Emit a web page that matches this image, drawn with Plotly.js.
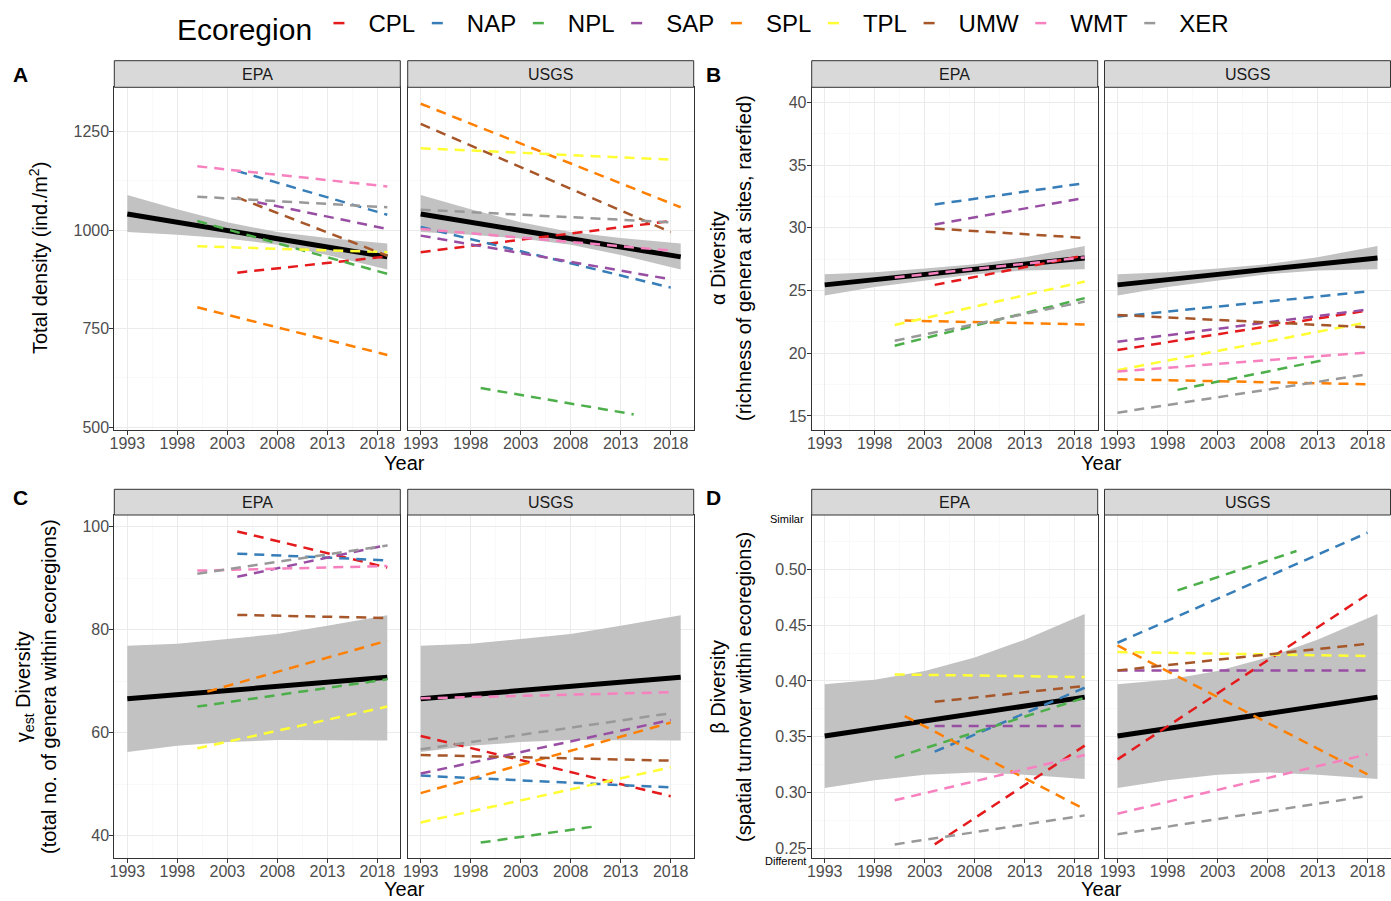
<!DOCTYPE html>
<html>
<head>
<meta charset="utf-8">
<script src="https://cdn.plot.ly/plotly-3.0.1.min.js"></script>
<style>html,body{margin:0;padding:0;background:#fff;}#chart{width:1391px;height:901px;}</style>
</head>
<body>
<div id="chart"></div>
<script>
// ---------------- DATA ----------------
const ecoregions = ['CPL','NAP','NPL','SAP','SPL','TPL','UMW','WMT','XER'];
const facets = ['EPA','USGS'];

// fitted trend (black) and its confidence ribbon
const trendYears = [1993, 2019];
const ribbonYears = [1993, 1998, 2003, 2008, 2013, 2019];

// A: Total density (ind./m2)  -- [start, end] per ecoregion
const densityEPAYears  = [[2004,2019],[2004,2019],[2000,2019],[2006,2019],[2000,2019],[2000,2019],[2004,2019],[2000,2019],[2000,2019]];
const densityEPA       = [[892,933],[1150,1039],[1023,889],[1071,1003],[804,683],[959,944],[1083,935],[1162,1111],[1085,1058]];
const densityUSGSYears = [[1993,2018],[1993,2018],[1999,2014.3],[1993,2018],[1993,2019],[1993,2018],[1993,2018],[1993,2018],[1993,2018]];
const densityUSGS      = [[944,1023],[1008,854],[599,532],[986,875],[1321,1058],[1208,1179],[1270,995],[1003,948],[1052,1020]];
const densityTrend = [1041, 932];
const densityUpper = [1089, 1053, 1020, 995, 980, 966];
const densityLower = [995, 988, 979, 963, 937, 900];

// B: alpha diversity
const alphaEPAYears  = [[2004,2019],[2004,2019],[2000,2019],[2004,2019],[2001,2019],[2000,2019],[2004,2019],[2000,2019],[2000,2019]];
const alphaEPA       = [[25.45,27.8],[31.86,33.56],[20.6,24.39],[30.26,32.39],[22.6,22.3],[22.25,25.72],[29.94,29.19],[26.04,27.64],[21.0,24.12]];
const alphaUSGSYears = [[1993,2018],[1993,2018],[1999,2013.8],[1993,2018],[1993,2018],[1993,2018],[1993,2018],[1993,2018],[1993,2018]];
const alphaUSGS      = [[20.25,23.4],[22.92,24.92],[17.08,19.48],[20.92,23.48],[17.93,17.53],[18.65,22.47],[23.05,22.07],[18.54,20.06],[15.26,18.33]];
const alphaTrend = [25.45, 27.6];
const alphaUpper = [26.3, 26.45, 26.75, 27.1, 27.65, 28.55];
const alphaLower = [24.6, 25.27, 25.8, 26.3, 26.6, 26.7];

// C: gamma diversity
const gammaEPAYears  = [[2004,2019],[2004,2019],[2000,2019],[2004,2019],[2001,2019],[2000,2019],[2004,2019],[2000,2019],[2000,2019]];
const gammaEPA       = [[99.1,92.1],[94.8,93.5],[65.1,70.4],[90.3,96.5],[68.0,77.9],[57.0,65.1],[82.9,82.3],[91.5,92.4],[90.9,96.4]];
const gammaUSGSYears = [[1993,2018],[1993,2018],[1999,2010.3],[1993,2018],[1993,2018],[1993,2018],[1993,2018],[1993,2018],[1993,2018]];
const gammaUSGS      = [[59.4,47.7],[51.7,49.4],[38.7,41.8],[52.1,62.5],[48.3,62.0],[42.6,53.3],[55.7,54.6],[66.7,67.9],[56.8,63.8]];
const gammaTrend = [66.6, 70.8];
const gammaUpper = [76.9, 77.3, 78.2, 79.2, 80.8, 82.85];
const gammaLower = [56.3, 57.5, 58.2, 58.6, 58.6, 58.5];

// D: beta diversity
const betaEPAYears  = [[2004,2019],[2004,2019],[2000,2019],[2004,2019],[2001,2019],[2000,2019],[2004,2019],[2000,2019],[2000,2019]];
const betaEPA       = [[0.2535,0.342],[0.3366,0.3939],[0.3312,0.385],[0.3596,0.3596],[0.3685,0.285],[0.4058,0.4035],[0.3814,0.3954],[0.2930,0.3336],[0.2535,0.2795]];
const betaUSGSYears = [[1993,2018],[1993,2018],[1999,2010.9],[1993,2018],[1993,2018],[1993,2018],[1993,2018],[1993,2018],[1993,2018]];
const betaUSGS      = [[0.3297,0.4775],[0.4342,0.5328],[0.4811,0.5164],[0.4094,0.4094],[0.4318,0.3163],[0.4259,0.4223],[0.4094,0.4333],[0.281,0.3342],[0.2625,0.2968]];
const betaTrend = [0.3506, 0.3855];
const betaUpper = [0.397, 0.401, 0.409, 0.421, 0.437, 0.460];
const betaLower = [0.304, 0.311, 0.316, 0.318, 0.316, 0.312];

// ---------------- STYLE ----------------
const palette = ['#E41A1C','#377EB8','#4DAF4A','#984EA3','#FF7F00','#FFFF33','#A65628','#F781BF','#999999'];
const FONT = 'Liberation Sans, Arial, Helvetica, sans-serif';
const W = 1391, H = 901;
const px = v => v / W, py = v => 1 - v / H;
const NBSP = '\u00a0';

const cols = [
  {epa:[114.3,400.3], usgs:[407.7,693.7]},
  {epa:[811.7,1097.7], usgs:[1104.5,1390.5]}
];
const rows = [
  {top:87.3, bottom:430, stripTop:60.7, yearY:463},
  {top:515, bottom:858, stripTop:489.3, yearY:889}
];

const panels = [
  {row:0,col:0, epaY:densityEPAYears, epa:densityEPA, usgsY:densityUSGSYears, usgs:densityUSGS, trend:densityTrend, up:densityUpper, lo:densityLower,
   range:[492.4,1362.7], tick0:500, dtick:250, fmt:'d'},
  {row:0,col:1, epaY:alphaEPAYears, epa:alphaEPA, usgsY:alphaUSGSYears, usgs:alphaUSGS, trend:alphaTrend, up:alphaUpper, lo:alphaLower,
   range:[13.88,41.2], tick0:15, dtick:5, fmt:'d'},
  {row:1,col:0, epaY:gammaEPAYears, epa:gammaEPA, usgsY:gammaUSGSYears, usgs:gammaUSGS, trend:gammaTrend, up:gammaUpper, lo:gammaLower,
   range:[35.7,102.3], tick0:40, dtick:20, fmt:'d'},
  {row:1,col:1, epaY:betaEPAYears, epa:betaEPA, usgsY:betaUSGSYears, usgs:betaUSGS, trend:betaTrend, up:betaUpper, lo:betaLower,
   range:[0.2413,0.5487], tick0:0.25, dtick:0.05, fmt:'.2f'}
];

const traces = [];
const layout = {
  width: W, height: H,
  margin: {l:0, r:0, t:0, b:0},
  paper_bgcolor: '#fff', plot_bgcolor: '#fff',
  font: {family: FONT, color: '#000'},
  showlegend: true,
  legend: {
    orientation: 'h', x: 175/W, xanchor: 'left', y: 1 - 1/H, yanchor: 'top',
    title: {text: 'Ecoregion' + NBSP, side: 'left', font: {size: 30, family: FONT, color: '#000'}},
    font: {size: 24, family: FONT, color: '#000'},
    itemwidth: 30, bgcolor: 'rgba(0,0,0,0)', borderwidth: 0
  },
  shapes: [], annotations: []
};

function xAxisDef(dom, anchor) {
  return {
    domain: [px(dom[0]), px(dom[1])], anchor: anchor,
    range: [1991.7, 2020.3], tick0: 1993, dtick: 5, tickmode: 'linear',
    ticks: 'outside', ticklen: 4, tickwidth: 1, tickcolor: '#333333',
    ticklabelstandoff: -5,
    showline: true, mirror: true, linecolor: '#333333', linewidth: 1,
    showgrid: true, gridcolor: '#EBEBEB', gridwidth: 1,
    minor: {tick0: 1993, dtick: 2.5, showgrid: true, gridcolor: '#F5F5F5', gridwidth: 0.6, ticks: ''},
    zeroline: false, fixedrange: true,
    tickfont: {family: FONT, size: 16, color: '#4D4D4D'}
  };
}
function yAxisDef(row, p, anchor, labels) {
  return {
    domain: [py(row.bottom), py(row.top)], anchor: anchor,
    range: p.range, tick0: p.tick0, dtick: p.dtick, tickmode: 'linear', tickformat: p.fmt,
    ticks: labels ? 'outside' : '', ticklen: 4, tickwidth: 1, tickcolor: '#333333',
    ticklabelstandoff: -3,
    showticklabels: labels,
    showline: true, mirror: true, linecolor: '#333333', linewidth: 1,
    showgrid: true, gridcolor: '#EBEBEB', gridwidth: 1,
    minor: {tick0: p.tick0, dtick: p.dtick/2, showgrid: true, gridcolor: '#F5F5F5', gridwidth: 0.6, ticks: ''},
    zeroline: false, fixedrange: true,
    tickfont: {family: FONT, size: 16, color: '#4D4D4D'}
  };
}

let axisIdx = 1;
panels.forEach(p => {
  const row = rows[p.row], col = cols[p.col];
  facets.forEach((facet, fi) => {
    const n = axisIdx++;
    const xa = 'x' + (n === 1 ? '' : n), ya = 'y' + (n === 1 ? '' : n);
    const dom = fi === 0 ? col.epa : col.usgs;
    layout['xaxis' + (n === 1 ? '' : n)] = xAxisDef(dom, ya);
    layout['yaxis' + (n === 1 ? '' : n)] = yAxisDef(row, p, xa, fi === 0);

    // ribbon
    traces.push({
      x: ribbonYears.concat(ribbonYears.slice().reverse()),
      y: p.up.concat(p.lo.slice().reverse()),
      xaxis: xa, yaxis: ya, mode: 'lines', fill: 'toself',
      fillcolor: '#C2C2C2', line: {width: 0, color: 'rgba(0,0,0,0)'},
      showlegend: false, hoverinfo: 'skip'
    });
    // trend
    traces.push({
      x: trendYears, y: p.trend, xaxis: xa, yaxis: ya, mode: 'lines',
      line: {color: '#000', width: 5}, showlegend: false, hoverinfo: 'skip'
    });
    // ecoregion lines
    const yrs = fi === 0 ? p.epaY : p.usgsY;
    const vals = fi === 0 ? p.epa : p.usgs;
    ecoregions.forEach((eco, i) => {
      traces.push({
        x: yrs[i], y: vals[i], xaxis: xa, yaxis: ya, mode: 'lines', name: eco,
        legendgroup: eco, showlegend: false,
        line: {color: palette[i], width: 2.5, dash: '10px,7px'}
      });
    });

    // strip
    layout.shapes.push({
      type: 'rect', xref: 'paper', yref: 'paper',
      x0: px(dom[0]), x1: px(dom[1]), y0: py(row.top), y1: py(row.stripTop),
      fillcolor: '#D9D9D9', line: {color: '#333333', width: 1}
    });
    layout.annotations.push({
      xref: 'paper', yref: 'paper', x: px((dom[0] + dom[1]) / 2), y: py((row.top + row.stripTop) / 2),
      text: facet, showarrow: false, xanchor: 'center', yanchor: 'middle',
      font: {family: FONT, size: 16, color: '#1A1A1A'}
    });
  });
  // "Year" title
  layout.annotations.push({
    xref: 'paper', yref: 'paper', x: px((col.epa[0] + col.usgs[1]) / 2), y: py(row.yearY),
    text: 'Year', showarrow: false, xanchor: 'center', yanchor: 'middle',
    font: {family: FONT, size: 20, color: '#000'}
  });
});

// legend entries
ecoregions.forEach((eco, i) => {
  traces.push({
    x: [null], y: [null], xaxis: 'x', yaxis: 'y', mode: 'lines', name: eco + NBSP,
    legendgroup: eco, showlegend: true,
    line: {color: palette[i], width: 2.5, dash: '11px,60px'}
  });
});

// panel letters and y titles
const extraText = [
  {t:'<b>A</b>', x:20, y:74, s:21},
  {t:'<b>B</b>', x:713, y:74, s:21},
  {t:'<b>C</b>', x:20, y:497, s:21},
  {t:'<b>D</b>', x:713, y:497, s:21}
];
extraText.forEach(e => layout.annotations.push({
  xref:'paper', yref:'paper', x:px(e.x), y:py(e.y), text:e.t, showarrow:false,
  xanchor:'center', yanchor:'middle', font:{family:FONT, size:e.s, color:'#000'}
}));
const yTitles = [
  {t:'Total density (ind./m<sup>2</sup>)', x:38, y:258},
  {t:'α Diversity<br>(richness of genera at sites, rarefied)', x:731, y:258},
  {t:'γ<sub>est</sub> Diversity<br>(total no. of genera within ecoregions)', x:36, y:687},
  {t:'β Diversity<br>(spatial turnover within ecoregions)', x:731, y:687}
];
yTitles.forEach(e => layout.annotations.push({
  xref:'paper', yref:'paper', x:px(e.x), y:py(e.y), text:e.t, showarrow:false, textangle:-90,
  xanchor:'center', yanchor:'middle', font:{family:FONT, size:20, color:'#000'}
}));
layout.annotations.push({xref:'paper', yref:'paper', x:px(806), y:py(519), text:'Similar', showarrow:false,
  xanchor:'right', yanchor:'middle', font:{family:FONT, size:11, color:'#000'}});
layout.annotations.push({xref:'paper', yref:'paper', x:px(808), y:py(861), text:'Different', showarrow:false,
  xanchor:'right', yanchor:'middle', font:{family:FONT, size:11, color:'#000'}});

Plotly.newPlot('chart', traces, layout, {displayModeBar: false, staticPlot: true});
</script>
</body>
</html>
